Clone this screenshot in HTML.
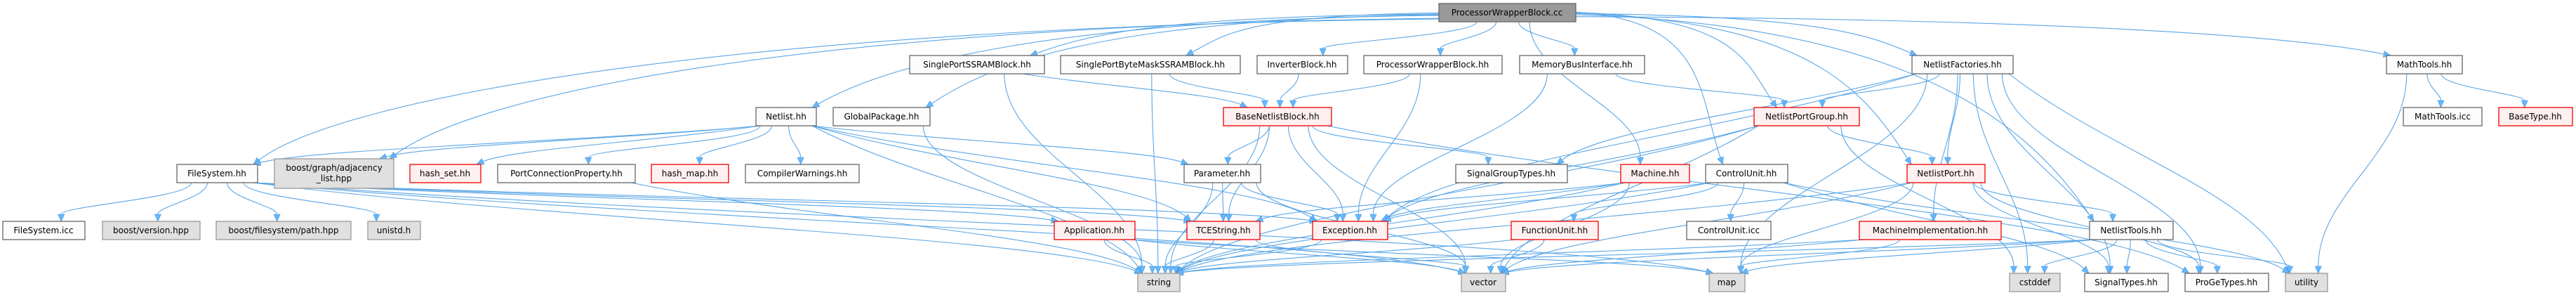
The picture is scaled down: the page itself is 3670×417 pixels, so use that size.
<!DOCTYPE html>
<html><head><meta charset="utf-8">
<style>
html,body{margin:0;padding:0;background:#fff;}
svg{display:block;}
text{font-family:"DejaVu Sans","Liberation Sans",sans-serif;font-size:12px;fill:#000;}
.n{fill:#fbfcfb;stroke:#666;stroke-width:1.3;}
.r{fill:#fff0f0;stroke:#e00;stroke-width:1.3;}
.g{fill:#e0e0e0;stroke:#999;stroke-width:1.3;}
.root{fill:#999;stroke:#666;stroke-width:1.3;}
.e{fill:none;stroke:#5aa6e6;stroke-width:1.1;}
.a{fill:#63b8ff;stroke:#4a90d0;stroke-width:0.6;}
</style></head>
<body>
<svg id="s" width="3670" height="417" viewBox="0 0 3670 417" xmlns="http://www.w3.org/2000/svg">
<g id="edges"></g>
<g id="nodes">
<rect id="root" class="root" x="2050" y="5" width="195" height="26"/><text x="2147" y="22" text-anchor="middle">ProcessorWrapperBlock.cc</text>

<rect id="spss" class="n" x="1296" y="79" width="192" height="26"/><text x="1392" y="96" text-anchor="middle">SinglePortSSRAMBlock.hh</text>
<rect id="spbm" class="n" x="1511" y="79" width="256" height="26"/><text x="1639" y="96" text-anchor="middle">SinglePortByteMaskSSRAMBlock.hh</text>
<rect id="inv" class="n" x="1791" y="79" width="129" height="26"/><text x="1855" y="96" text-anchor="middle">InverterBlock.hh</text>
<rect id="pwbh" class="n" x="1943" y="79" width="197" height="26"/><text x="2041" y="96" text-anchor="middle">ProcessorWrapperBlock.hh</text>
<rect id="mbi" class="n" x="2165" y="79" width="178" height="26"/><text x="2254" y="96" text-anchor="middle">MemoryBusInterface.hh</text>
<rect id="nf" class="n" x="2724" y="79" width="144" height="26"/><text x="2796" y="96" text-anchor="middle">NetlistFactories.hh</text>
<rect id="mt" class="n" x="3400" y="79" width="108" height="26"/><text x="3454" y="96" text-anchor="middle">MathTools.hh</text>

<rect id="nl" class="n" x="1077" y="153" width="86" height="26"/><text x="1120" y="170" text-anchor="middle">Netlist.hh</text>
<rect id="gp" class="n" x="1187" y="153" width="138" height="26"/><text x="1256" y="170" text-anchor="middle">GlobalPackage.hh</text>
<rect id="bnb" class="r" x="1743" y="153" width="154" height="26"/><text x="1820" y="170" text-anchor="middle">BaseNetlistBlock.hh</text>
<rect id="npg" class="r" x="2499" y="153" width="150" height="26"/><text x="2574" y="170" text-anchor="middle">NetlistPortGroup.hh</text>
<rect id="mti" class="n" x="3424" y="153" width="112" height="26"/><text x="3480" y="170" text-anchor="middle">MathTools.icc</text>
<rect id="bt" class="r" x="3560" y="153" width="105" height="26"/><text x="3612" y="170" text-anchor="middle">BaseType.hh</text>

<rect id="fs" class="n" x="252" y="234" width="115" height="26"/><text x="309" y="251" text-anchor="middle">FileSystem.hh</text>
<rect id="bg" class="g" x="391" y="226" width="170" height="42"/><text x="476" y="243" text-anchor="middle">boost/graph/adjacency</text><text x="476" y="258" text-anchor="middle">_list.hpp</text>
<rect id="hs" class="r" x="584" y="234" width="101" height="26"/><text x="634" y="251" text-anchor="middle">hash_set.hh</text>
<rect id="pcp" class="n" x="709" y="234" width="196" height="26"/><text x="807" y="251" text-anchor="middle">PortConnectionProperty.hh</text>
<rect id="hm" class="r" x="928" y="234" width="110" height="26"/><text x="983" y="251" text-anchor="middle">hash_map.hh</text>
<rect id="cw" class="n" x="1062" y="234" width="162" height="26"/><text x="1143" y="251" text-anchor="middle">CompilerWarnings.hh</text>
<rect id="par" class="n" x="1687" y="234" width="109" height="26"/><text x="1741" y="251" text-anchor="middle">Parameter.hh</text>
<rect id="sgt" class="n" x="2074" y="234" width="159" height="26"/><text x="2153" y="251" text-anchor="middle">SignalGroupTypes.hh</text>
<rect id="mach" class="r" x="2309" y="234" width="98" height="26"/><text x="2358" y="251" text-anchor="middle">Machine.hh</text>
<rect id="cu" class="n" x="2430" y="234" width="117" height="26"/><text x="2488" y="251" text-anchor="middle">ControlUnit.hh</text>
<rect id="np" class="r" x="2717" y="234" width="111" height="26"/><text x="2772" y="251" text-anchor="middle">NetlistPort.hh</text>

<rect id="fsi" class="n" x="4" y="315" width="117" height="26"/><text x="62" y="332" text-anchor="middle">FileSystem.icc</text>
<rect id="bv" class="g" x="146" y="315" width="139" height="26"/><text x="215" y="332" text-anchor="middle">boost/version.hpp</text>
<rect id="bfp" class="g" x="308" y="315" width="192" height="26"/><text x="404" y="332" text-anchor="middle">boost/filesystem/path.hpp</text>
<rect id="un" class="g" x="524" y="315" width="75" height="26"/><text x="561" y="332" text-anchor="middle">unistd.h</text>
<rect id="app" class="r" x="1502" y="315" width="115" height="26"/><text x="1559" y="332" text-anchor="middle">Application.hh</text>
<rect id="tce" class="r" x="1691" y="315" width="104" height="26"/><text x="1743" y="332" text-anchor="middle">TCEString.hh</text>
<rect id="exc" class="r" x="1870" y="315" width="107" height="26"/><text x="1923" y="332" text-anchor="middle">Exception.hh</text>
<rect id="fu" class="r" x="2153" y="315" width="124" height="26"/><text x="2215" y="332" text-anchor="middle">FunctionUnit.hh</text>
<rect id="cui" class="n" x="2403" y="315" width="120" height="26"/><text x="2463" y="332" text-anchor="middle">ControlUnit.icc</text>
<rect id="mi" class="r" x="2649" y="315" width="202" height="26"/><text x="2750" y="332" text-anchor="middle">MachineImplementation.hh</text>
<rect id="nt" class="n" x="2977" y="315" width="119" height="26"/><text x="3036" y="332" text-anchor="middle">NetlistTools.hh</text>

<rect id="str" class="g" x="1621" y="389" width="60" height="26"/><text x="1651" y="406" text-anchor="middle">string</text>
<rect id="vec" class="g" x="2082" y="389" width="63" height="26"/><text x="2113" y="406" text-anchor="middle">vector</text>
<rect id="map" class="g" x="2435" y="389" width="51" height="26"/><text x="2460" y="406" text-anchor="middle">map</text>
<rect id="cst" class="g" x="2863" y="389" width="72" height="26"/><text x="2899" y="406" text-anchor="middle">cstddef</text>
<rect id="st" class="n" x="2970" y="389" width="119" height="26"/><text x="3029" y="406" text-anchor="middle">SignalTypes.hh</text>
<rect id="pg" class="n" x="3113" y="389" width="119" height="26"/><text x="3172" y="406" text-anchor="middle">ProGeTypes.hh</text>
<rect id="ut" class="g" x="3256" y="389" width="60" height="26"/><text x="3286" y="406" text-anchor="middle">utility</text>
</g>
</svg>
<script>
(function(){
var E=[
["root","fs"],["root","nl"],["root","gp"],["root","spss"],["root","spbm"],["root","inv"],["root","pwbh"],["root","mbi"],["root","nf"],["root","npg"],["root","np"],["root","cu"],["root","nt"],["root","mt"],["root","mach"],["root","bg"],
["nl","bg"],["nl","hs"],["nl","pcp"],["nl","hm"],["nl","cw"],["nl","par"],["nl","tce"],["nl","exc"],["nl","str"],["nl","fs"],
["fs","fsi"],["fs","bv"],["fs","bfp"],["fs","un"],["fs","str"],["fs","vec"],["fs","exc"],["fs","tce"],["fs","app"],["fs","map"],
["gp","str"],["spss","bnb"],["spss","str"],["spbm","bnb"],["spbm","str"],["inv","bnb"],["pwbh","bnb"],["pwbh","exc"],["mbi","npg"],["mbi","exc"],
["bnb","par"],["bnb","sgt"],["bnb","str"],["bnb","vec"],["bnb","exc"],["bnb","tce"],["bnb","pg"],
["par","tce"],["par","str"],["par","exc"],["par","vec"],
["app","str"],["app","vec"],["app","map"],["tce","str"],["tce","vec"],["exc","str"],
["pcp","str"],
["nf","npg"],["nf","np"],["nf","sgt"],["nf","mi"],["nf","cst"],["nf","map"],["nf","ut"],["nf","st"],["nf","pg"],["nf","exc"],
["npg","np"],["npg","str"],["npg","vec"],["npg","cst"],["npg","exc"],
["np","nt"],["np","str"],["np","vec"],["np","map"],["np","pg"],["np","st"],
["mach","exc"],["mach","str"],["mach","vec"],["mach","tce"],
["cu","cui"],["cu","fu"],["cu","exc"],["cu","str"],["cu","ut"],["cu","st"],
["fu","vec"],["fu","str"],["mi","str"],["mi","vec"],["mi","map"],
["nt","cst"],["nt","st"],["nt","pg"],["nt","ut"],["nt","str"],["nt","vec"],["nt","map"],
["mt","mti"],["mt","bt"],["mt","ut"]
];
function R(id){var r=document.getElementById(id);return {x:+r.getAttribute("x"),y:+r.getAttribute("y"),w:+r.getAttribute("width"),h:+r.getAttribute("height")};}
var g=document.getElementById("edges"),out="";
E.forEach(function(e){
 var a=R(e[0]),b=R(e[1]);
 var x1=a.x+a.w/2,y1=a.y+a.h,x2,y2;
 var dx=(b.x+b.w/2)-x1;
 var c1x,c1y,c2x,c2y;
 x1+=Math.max(-a.w/2+6,Math.min(a.w/2-6,dx*0.15));
 x2=b.x+b.w/2-Math.max(-b.w/2+6,Math.min(b.w/2-6,dx*0.1));
 y2=b.y;
 var dy;
 if(b.y<=a.y+a.h){
   y1=a.y+a.h/2; x1=dx>0?a.x+a.w:a.x; y2=b.y+b.h/2; x2=dx>0?b.x:b.x+b.w;
   dy=y2-y1; c1x=x1;c1y=y1+dy*0.4;c2x=x2;c2y=y2-dy*0.4;
 } else if(e[0]=="root" && Math.abs(dx)>300){
   x1=dx>0?a.x+a.w:a.x; y1=a.y+10+Math.min(12,Math.abs(dx)/150);
   dy=y2-y1;
   c1x=x1+dx*0.55; c1y=y1+dy*0.05;
   c2x=x2+(dx>0?-1:1)*Math.min(120,Math.abs(dx)*0.1); c2y=y2-dy*0.45;
 } else {
   dy=y2-y1;
   c1x=x1;c1y=y1+dy*0.4;c2x=x2;c2y=y2-dy*0.4;
   if(Math.abs(dx)>400){c1x=x1+dx*0.3;c2x=x2-dx*0.1;}
 }
 var vx=x2-c2x,vy=y2-c2y,L=Math.sqrt(vx*vx+vy*vy)||1;vx/=L;vy/=L;
 var ex=x2-vx*10,ey=y2-vy*10;
 out+='<path class="e" d="M'+x1.toFixed(1)+','+y1.toFixed(1)+' C'+c1x.toFixed(1)+','+c1y.toFixed(1)+' '+c2x.toFixed(1)+','+c2y.toFixed(1)+' '+ex.toFixed(1)+','+ey.toFixed(1)+'"/>';
 var px=-vy*4.5,py=vx*4.5;
 out+='<polygon class="a" points="'+x2.toFixed(1)+','+y2.toFixed(1)+' '+(ex+px).toFixed(1)+','+(ey+py).toFixed(1)+' '+(ex-px).toFixed(1)+','+(ey-py).toFixed(1)+'"/>';
});
g.innerHTML=out;
})();
</script>
</body></html>
